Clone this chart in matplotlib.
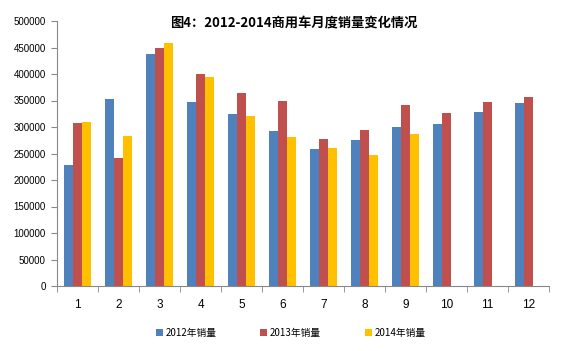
import matplotlib
matplotlib.use("Agg")
import matplotlib.pyplot as plt
import numpy as np
from matplotlib.ticker import FixedLocator, NullFormatter

plt.rcParams['font.family'] = ['Noto Sans CJK SC', 'DejaVu Sans']

months = ["1", "2", "3", "4", "5", "6", "7", "8", "9", "10", "11", "12"]
sales_2012 = [229000, 353000, 438000, 347000, 325000, 292000, 258000, 275000, 300000, 306000, 328000, 345000]
sales_2013 = [308000, 242000, 449000, 400000, 364000, 349000, 277000, 294000, 341000, 326000, 347000, 356000]
sales_2014 = [309000, 283000, 459000, 394000, 321000, 281000, 260000, 247000, 287000, None, None, None]
series_names = ["2012年销量", "2013年销量", "2014年销量"]
colors = ["#4F81BD", "#C0504D", "#FFC000"]
title = "图4：2012-2014商用车月度销量变化情况"

fig = plt.figure(figsize=(5.68, 3.51), dpi=100)
ax = fig.add_axes([57/568, 1-286/351, (549-57)/568, (286-21)/351])

x = np.arange(len(months))
w = 0.227
for i, (vals, name, c) in enumerate(zip([sales_2012, sales_2013, sales_2014], series_names, colors)):
    xs = [xi for xi, v in zip(x, vals) if v is not None]
    vs = [v for v in vals if v is not None]
    ax.bar(np.array(xs) + (i - 1) * w, vs, width=w, color=c, label=name, edgecolor='none')

ax.set_xlim(-0.5, len(months) - 0.5)
ax.set_ylim(0, 500000)
ax.set_yticks(np.arange(0, 500001, 50000))
ax.set_yticklabels([str(v) for v in range(0, 500001, 50000)], fontsize=7, family='Liberation Sans')
ax.set_xticks(x)
ax.set_xticklabels(months, fontsize=8.5, family='Liberation Sans')
ax.tick_params(axis='x', which='major', length=0, pad=9)
ax.xaxis.set_minor_locator(FixedLocator(np.arange(-0.5, len(months), 1)))
ax.xaxis.set_minor_formatter(NullFormatter())
ax.tick_params(axis='x', which='minor', length=4, color='#888888', direction='out')
ax.tick_params(axis='y', length=4, color='#888888', direction='out', pad=4)

for s in ['top', 'right']:
    ax.spines[s].set_visible(False)
for s in ['left', 'bottom']:
    ax.spines[s].set_color('#888888')
    ax.spines[s].set_linewidth(0.8)

fig.text(294/568, 1-23/351, title, ha='center', va='center', fontsize=9.5, fontweight='bold')

leg = fig.legend(loc='center', bbox_to_anchor=(0.512, 1-333/351), ncol=3, frameon=False,
                 fontsize=7, handlelength=0.7, handleheight=0.7, columnspacing=4.5, handletextpad=0.3)

fig.savefig("out.png", dpi=100)
